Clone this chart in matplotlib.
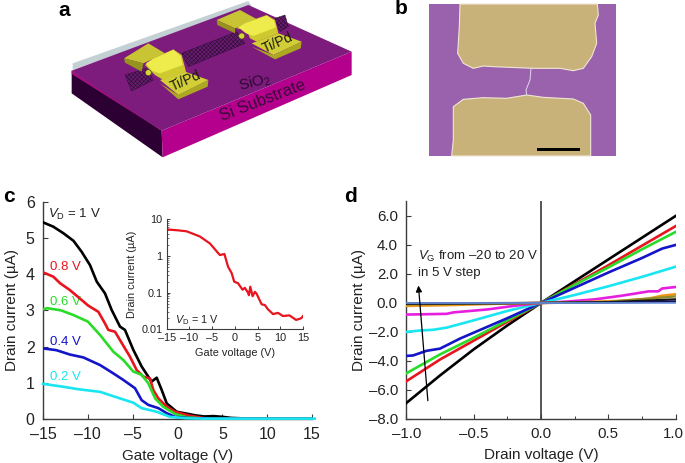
import matplotlib
matplotlib.use("Agg")
import matplotlib.pyplot as plt
from matplotlib.patches import Circle, Polygon, Rectangle
from matplotlib.transforms import ScaledTranslation

plt.rcParams["font.family"] = ["Liberation Sans", "DejaVu Sans"]
plt.rcParams["mathtext.fontset"] = "custom"
plt.rcParams["mathtext.rm"] = "Liberation Sans"
plt.rcParams["mathtext.it"] = "Liberation Sans:italic"
plt.rcParams["hatch.linewidth"] = 0.4

W, H = 685, 463
AXIS_COL = "#3c3c3c"
TEXT_COL = "#222222"

# panel c, gate sweeps
vg_black = [-15, -13.85, -12.73, -11.6, -10.7, -9.76, -9, -8.09, -7.34, -6.41, -5.86, -4.93, -4, -3.26, -2.9, -2.32, -1.76, -1.2, -0.09, 1.2, 2, 3, 4, 5, 6, 8, 10, 15]
id_black = [5.43, 5.31, 5.13, 4.92, 4.62, 4.25, 3.79, 3.47, 3.01, 2.55, 2.46, 1.91, 1.45, 1.17, 1.03, 1.14, 0.8, 0.43, 0.2, 0.14, 0.1, 0.07, 0.08, 0.06, 0.03, 0.01, 0.005, 0]
vg_red = [-15, -13.85, -13.1, -12, -10.9, -9.95, -8.83, -8.09, -7.72, -6.97, -6.2, -5.3, -4.55, -3.8, -3.07, -2.7, -2.14, -1.2, -0.28, 1.2, 3, 15]
id_red = [4.05, 3.93, 3.75, 3.56, 3.33, 3.13, 2.96, 2.64, 2.46, 2.41, 2.09, 1.72, 1.35, 1.17, 1.12, 0.8, 0.57, 0.34, 0.2, 0.1, 0.02, 0]
vg_green = [-15, -14.5, -13, -11.6, -10, -8.64, -7.16, -6.05, -4.93, -4, -3.26, -2.5, -1.6, -0.28, 1, 3, 15]
id_green = [3.03, 3.06, 3.0, 2.87, 2.69, 2.32, 1.86, 1.63, 1.31, 1.22, 0.99, 0.57, 0.34, 0.14, 0.05, 0.01, 0]
vg_blue = [-15, -13.5, -12, -10.5, -8.64, -7.16, -6.05, -4.74, -4, -3.26, -2.14, -1.2, -0.28, 1, 3, 15]
id_blue = [1.95, 1.9, 1.78, 1.7, 1.49, 1.26, 1.08, 0.85, 0.52, 0.39, 0.3, 0.16, 0.06, 0.03, 0.01, 0]
vg_cyan = [-15, -13, -11, -8.64, -6.8, -4.93, -4, -2.32, -0.84, 1, 3, 15.3]
id_cyan = [0.97, 0.9, 0.82, 0.75, 0.6, 0.45, 0.3, 0.2, 0.06, 0.02, 0.01, 0.01]

# panel c inset, log scale
vg_inset = [-15, -12.5, -10.6, -7.7, -5.5, -3.3, -2.3, -1.5, -0.7, -0.15, 0.7, 1.7, 2.2, 2.9, 3.1, 3.4, 3.9, 4.4, 4.75, 5.9, 6.6, 7.3, 8.4, 9.5, 10.6, 12, 13.5, 14.6, 15]
id_inset = [5.3, 5.0, 4.7, 3.4, 2.2, 1.06, 1.13, 0.51, 0.34, 0.2, 0.18, 0.12, 0.135, 0.1, 0.085, 0.145, 0.08, 0.105, 0.095, 0.048, 0.046, 0.035, 0.026, 0.028, 0.023, 0.024, 0.018, 0.02, 0.023]

# panel d, drain sweeps
vd_grid = [-1, -0.75, -0.5, -0.25, 0, 0.25, 0.5, 0.75, 1]
d_black = [-6.9, -5.0, -3.2, -1.55, 0, 1.5, 3.0, 4.5, 6.0]
d_red = [-5.4, -3.9, -2.6, -1.3, 0, 1.3, 2.6, 3.95, 5.3]
d_green = [-4.85, -3.55, -2.4, -1.2, 0, 1.25, 2.45, 3.7, 4.9]
vd_blue = [-1, -0.95, -0.85, -0.75, -0.6, -0.5, -0.25, 0, 0.25, 0.5, 0.75, 0.9, 1]
d_blue = [-3.65, -3.62, -3.3, -3.15, -2.45, -2.05, -1.05, 0, 1.05, 2.1, 3.1, 3.75, 4.0]
vd_cyan = [-1, -0.9, -0.8, -0.7, -0.5, -0.25, 0, 0.25, 0.5, 0.75, 1]
d_cyan = [-2.0, -1.9, -1.85, -1.7, -1.2, -0.55, 0, 0.55, 1.15, 1.8, 2.5]
vd_magenta = [-1, -0.7, -0.65, -0.4, -0.2, 0, 0.2, 0.4, 0.6, 0.8, 0.87, 0.9, 1]
d_magenta = [-0.8, -0.75, -0.65, -0.45, -0.2, 0, 0.1, 0.25, 0.5, 0.8, 0.8, 1.0, 1.1]
vd_orange = [-1, -0.7, -0.3, 0, 0.3, 0.6, 0.8, 0.9, 1]
d_orange = [-0.2, -0.15, -0.05, 0, 0.05, 0.15, 0.3, 0.5, 0.6]
vd_small = [-1, 0, 0.5, 1]
d_olive = [-0.1, 0, 0.08, 0.45]
d_darkblack = [-0.05, 0, 0.05, 0.25]
d_navy = [-0.02, 0, 0.02, 0.1]
d_lightblue = [0.0, 0, 0, 0]

# panel a outline shapes, in 3x crop pixels of the whole picture
sheet_grey = [(218, 190), (745, 3), (755, 18), (218, 210)]
sheet_top = [(215, 212), (745, 15), (1055, 155), (485, 392)]
sheet_front = [(485, 392), (1055, 155), (1055, 225), (488, 472)]
sheet_left = [(215, 212), (485, 392), (488, 472), (215, 280)]
sheet_oxide = [(215, 212), (485, 375), (485, 392), (215, 222)]
tube_parts = [
    [(375, 225), (440, 205), (460, 240), (395, 273)],
    [(545, 160), (710, 95), (735, 130), (565, 200)],
    [(825, 55), (855, 45), (865, 80), (840, 95)],
]
# electrodes, one set of parts for each, in 3x crops starting at the given corner
left_origin = (110, 30)
left_back = [(42, 85), (115, 40), (165, 70), (100, 100)]
left_back_side = [(42, 85), (45, 98), (95, 125), (100, 100)]
left_arch = [(105, 105), (130, 85), (190, 58), (215, 75), (228, 125), (160, 150), (135, 135)]
left_arch_light = [(108, 100), (130, 86), (190, 60), (212, 78), (218, 105), (150, 130), (125, 122)]
left_pad = [(150, 150), (225, 125), (295, 150), (205, 195)]
left_side = [(205, 195), (295, 150), (293, 170), (205, 208), (150, 160)]
left_ball = (115, 128)
right_origin = (210, 0)
right_back = [(20, 60), (90, 30), (145, 60), (75, 85)]
right_back_side = [(20, 60), (22, 75), (75, 100), (75, 85)]
right_arch = [(80, 85), (105, 68), (170, 45), (195, 60), (205, 100), (140, 125), (120, 115), (110, 90)]
right_arch_light = [(85, 82), (105, 70), (170, 47), (192, 62), (198, 82), (130, 108), (108, 100)]
right_pad = [(125, 130), (205, 100), (275, 125), (190, 165)]
right_side = [(190, 165), (275, 125), (272, 145), (195, 178), (125, 140)]
right_ball = (95, 108)

# panel b outline shapes, in 3x crop pixels
gold_top = [(300, 12), (712, 12), (715, 45), (705, 70), (710, 130), (695, 170), (670, 205), (640, 212), (600, 205), (520, 205), (400, 200), (370, 198), (340, 205), (310, 190), (293, 160), (298, 80)]
gold_bottom = [(280, 320), (310, 298), (370, 293), (440, 295), (500, 285), (550, 292), (640, 297), (670, 310), (692, 345), (692, 468), (275, 468), (280, 420)]
wire_x = [513, 510, 498, 500]
wire_y = [205, 240, 270, 285]


def px_axes(fig, left, top, right, bottom):
    return fig.add_axes([left / W, 1 - bottom / H, (right - left) / W, (bottom - top) / H])


def scaled(points, origin=(0, 0)):
    return [(x / 3 + origin[0], y / 3 + origin[1]) for x, y in points]


def style_axes(ax, lw=1.0):
    for side in ["top", "right"]:
        ax.spines[side].set_visible(False)
    for side in ["left", "bottom"]:
        ax.spines[side].set_linewidth(lw)
        ax.spines[side].set_color(AXIS_COL)
    ax.patch.set_alpha(0)


fig = plt.figure(figsize=(W / 100, H / 100), dpi=100)

# illustrations and panel letters live on one pixel-based layer
bg = fig.add_axes([0, 0, 1, 1])
bg.set_xlim(0, W)
bg.set_ylim(H, 0)
bg.axis("off")

for pts, col in [
    (sheet_grey, "#c3d0d4"),
    (sheet_left, "#2c0032"),
    (sheet_front, "#b4008c"),
    (sheet_oxide, "#a2107e"),
    (sheet_top, "#7d1c7d"),
]:
    bg.add_patch(Polygon(scaled(pts), closed=True, fc=col, ec="none"))
for pts in tube_parts:
    bg.add_patch(Polygon(scaled(pts), closed=True, fc="#6a1c70", ec="#2c0c34", lw=0.3, hatch="xxxxxxxx"))
for origin, back, back_side, arch, light, pad, side, ball in [
    (left_origin, left_back, left_back_side, left_arch, left_arch_light, left_pad, left_side, left_ball),
    (right_origin, right_back, right_back_side, right_arch, right_arch_light, right_pad, right_side, right_ball),
]:
    bg.add_patch(Polygon(scaled(back, origin), closed=True, fc="#c8c434", ec="none"))
    bg.add_patch(Polygon(scaled(back_side, origin), closed=True, fc="#96941c", ec="none"))
    bg.add_patch(Polygon(scaled(side, origin), closed=True, fc="#aca822", ec="none"))
    bg.add_patch(Polygon(scaled(pad, origin), closed=True, fc="#d2ce38", ec="none"))
    bg.add_patch(Polygon(scaled(arch, origin), closed=True, fc="#cdc92e", ec="none"))
    bg.add_patch(Polygon(scaled(light, origin), closed=True, fc="#eeec4c", ec="none"))
    bx, by = scaled([ball], origin)[0]
    bg.add_patch(Circle((bx, by), 3, fc="#d8d438", ec="#4a4410", lw=0.4))

bg.text(186, 81, "Ti/Pd", fontsize=10, rotation=24, ha="center", va="center", color="#1c1c10")
bg.text(278, 43, "Ti/Pd", fontsize=10, rotation=24, ha="center", va="center", color="#1c1c10")
bg.text(255, 83, "SiO$_2$", fontsize=11, rotation=14, ha="center", va="center", color="#2a0a30")
bg.text(263, 101, "Si Substrate", fontsize=12, rotation=21, ha="center", va="center", color="#3a0a38")

bg.add_patch(Rectangle((429.3, 4), 186.7, 152, fc="#9a62ac", ec="none"))
bg.add_patch(Polygon(scaled(gold_top, (360, 0)), closed=True, fc="#c9b27a", ec="#efe7d6", lw=0.8))
bg.add_patch(Polygon(scaled(gold_bottom, (360, 0)), closed=True, fc="#c9b27a", ec="#efe7d6", lw=0.8))
bg.plot([x / 3 + 360 for x in wire_x], [y / 3 for y in wire_y], color="#e6d6ee", lw=0.7)
bg.add_patch(Rectangle((536.7, 147.7), 43.3, 2.8, fc="black", ec="none"))

for label, x, y in [("a", 64, 10), ("b", 401, 9), ("c", 9, 197), ("d", 351, 197)]:
    bg.text(x, y, label, fontsize=15, fontweight="bold", ha="center", va="center", color="black")

# panel c
ax_c = px_axes(fig, 43, 201.7, 312, 419)
ax_c.plot(vg_black, id_black, color="black", lw=1.9, zorder=3)
ax_c.plot(vg_red, id_red, color="#e8141e", lw=1.9, zorder=4)
ax_c.plot(vg_green, id_green, color="#28dc28", lw=1.9, zorder=5)
ax_c.plot(vg_blue, id_blue, color="#1414c8", lw=1.9, zorder=6)
ax_c.plot(vg_cyan, id_cyan, color="#19e6f0", lw=1.9, zorder=7, clip_on=False)
ax_c.set_xlim(-15, 15)
ax_c.set_ylim(0, 6)
style_axes(ax_c)
ax_c.set_xticks([-15, -10, -5, 0, 5, 10, 15])
ax_c.set_xticklabels(["–15", "–10", "–5", "0", "5", "10", "15"])
ax_c.set_yticks([0, 1, 2, 3, 4, 5, 6])
ax_c.tick_params(direction="in", length=3.5, width=0.8, color=AXIS_COL, labelsize=11.5, labelcolor=TEXT_COL, pad=6)
ax_c.set_xlabel("Gate voltage (V)", fontsize=11, color=TEXT_COL, labelpad=5)
ax_c.set_ylabel("Drain current (µA)", fontsize=11, color=TEXT_COL, labelpad=5)
ax_c.text(-14.4, 5.65, "$V_{\\mathrm{D}}$ = 1 V", fontsize=9.5, color=TEXT_COL, va="center")
ax_c.text(-14.2, 4.2, "0.8 V", fontsize=9.5, color="#e8141e", va="center")
ax_c.text(-14.2, 3.22, "0.6 V", fontsize=9.5, color="#28dc28", va="center")
ax_c.text(-14.2, 2.13, "0.4 V", fontsize=9.5, color="#1414c8", va="center")
ax_c.text(-14.2, 1.17, "0.2 V", fontsize=9.5, color="#19e6f0", va="center")

# inset
ax_in = px_axes(fig, 166.7, 219.3, 303, 329.3)
ax_in.semilogy(vg_inset, id_inset, color="#e8141e", lw=1.6)
ax_in.set_xlim(-15, 15)
ax_in.set_ylim(0.01, 10)
style_axes(ax_in, lw=0.8)
ax_in.set_xticks([-15, -10, -5, 0, 5, 10, 15])
ax_in.set_xticklabels(["–15", "–10", "–5", "0", "5", "10", "15"])
ax_in.set_yticks([0.01, 0.1, 1, 10])
ax_in.set_yticklabels(["0.01", "0.1", "1", "10"])
ax_in.tick_params(which="major", direction="in", length=2.5, width=0.7, color=AXIS_COL, labelsize=7.8, labelcolor=TEXT_COL, pad=3)
ax_in.tick_params(which="minor", direction="in", length=1.3, width=0.5, color=AXIS_COL)
ax_in.set_xlabel("Gate voltage (V)", fontsize=7.8, color=TEXT_COL, labelpad=3)
ax_in.set_ylabel("Drain current (µA)", fontsize=7.8, color=TEXT_COL, labelpad=3)
ax_in.text(-13.1, 0.0175, "$V_{\\mathrm{D}}$ = 1 V", fontsize=7.8, color=TEXT_COL, va="center")

# panel d
ax_d = px_axes(fig, 406.3, 200.7, 675.7, 419)
ax_d.axvline(0, color="#555555", lw=1.4, zorder=1)
ax_d.plot(vd_grid, d_black, color="black", lw=1.9, zorder=3)
ax_d.plot(vd_grid, d_red, color="#e8141e", lw=1.9, zorder=4)
ax_d.plot(vd_grid, d_green, color="#28dc28", lw=1.9, zorder=5)
ax_d.plot(vd_blue, d_blue, color="#1414c8", lw=1.9, zorder=6)
ax_d.plot(vd_cyan, d_cyan, color="#19e6f0", lw=1.9, zorder=7)
ax_d.plot(vd_magenta, d_magenta, color="#e61ee0", lw=1.9, zorder=8)
ax_d.plot(vd_orange, d_orange, color="#f09619", lw=1.9, zorder=9)
ax_d.plot(vd_small, d_olive, color="#8c8c28", lw=1.6, zorder=10)
ax_d.plot(vd_small, d_darkblack, color="#141414", lw=1.6, zorder=11)
ax_d.plot(vd_small, d_navy, color="#14145a", lw=1.6, zorder=12)
ax_d.plot(vd_small, d_lightblue, color="#6e96dc", lw=1.2, zorder=13)
ax_d.set_xlim(-1, 1)
ax_d.set_ylim(-8, 7.05)
style_axes(ax_d)
ax_d.set_xticks([-1, -0.5, 0, 0.5, 1])
ax_d.set_xticklabels(["–1.0", "–0.5", "0.0", "0.5", "1.0"])
ax_d.set_xticks([-0.75, -0.25, 0.25, 0.75], minor=True)
ax_d.set_yticks([-8, -6, -4, -2, 0, 2, 4, 6])
ax_d.set_yticklabels(["–8.0", "–6.0", "–4.0", "–2.0", "0.0", "2.0", "4.0", "6.0"])
ax_d.tick_params(which="major", direction="in", length=3.5, width=0.8, color=AXIS_COL, labelsize=10.8, labelcolor=TEXT_COL, pad=6)
ax_d.tick_params(which="minor", direction="in", length=2, width=0.7, color=AXIS_COL)
# last label sits against the picture edge, nudge it in
last_label = ax_d.get_xticklabels()[-1]
last_label.set_transform(last_label.get_transform() + ScaledTranslation(-2 / 72, 0, fig.dpi_scale_trans))
ax_d.set_xlabel("Drain voltage (V)", fontsize=11, color=TEXT_COL, labelpad=5)
ax_d.set_ylabel("Drain current (µA)", fontsize=11, color=TEXT_COL, labelpad=2)
ax_d.text(-0.91, 3.2, "$V_{\\mathrm{G}}$ from –20 to 20 V", fontsize=9.5, color=TEXT_COL, va="center")
ax_d.text(-0.91, 2.05, "in 5 V step", fontsize=9.5, color=TEXT_COL, va="center")
ax_d.annotate(
    "",
    xy=(-0.91, 1.2),
    xytext=(-0.84, -6.74),
    arrowprops=dict(arrowstyle="-|>", color="black", lw=0.9, mutation_scale=9, shrinkA=0, shrinkB=0),
    zorder=20,
)

plt.savefig("out.png", dpi=100)
